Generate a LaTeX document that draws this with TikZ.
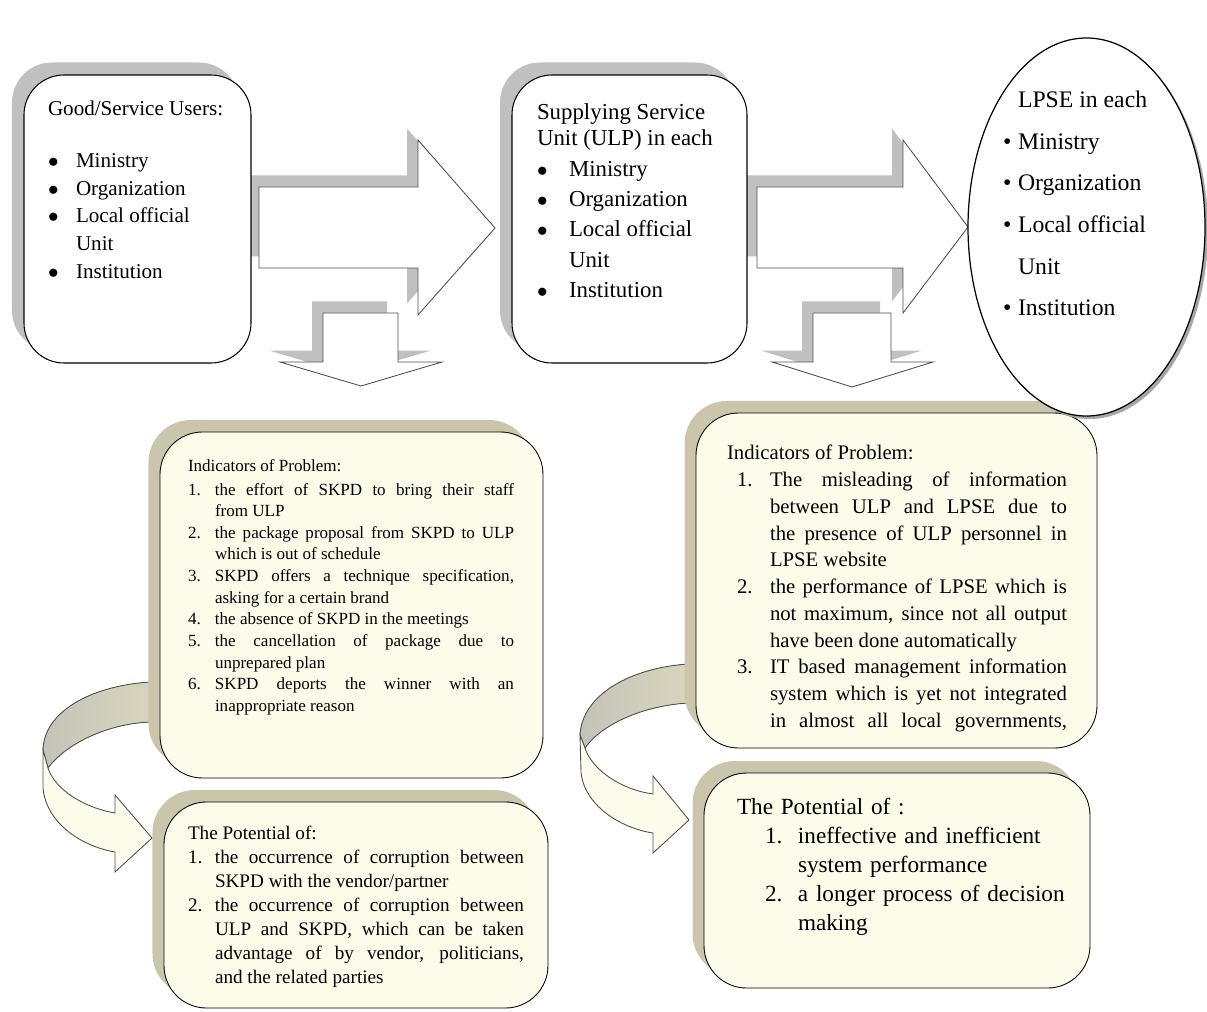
\documentclass[tikz,border=0pt]{standalone}
\usepackage{fontspec}
\setmainfont{Liberation Serif}
\usetikzlibrary{shapes.geometric,shadows}

\definecolor{shadowgray}{RGB}{192,192,192}
\definecolor{olivegray}{RGB}{201,198,172}
\definecolor{cream}{RGB}{253,252,234}
\definecolor{bandback}{RGB}{216,213,190}
\definecolor{bandleft}{RGB}{196,195,184}
\definecolor{arrowline}{RGB}{80,80,80}

\tikzset{
	topbox/.style={draw, fill=white, rounded corners=8mm, line width=0.6pt,
		drop shadow={shadow xshift=-2.4mm, shadow yshift=2.5mm, fill=shadowgray, opacity=1}},
	lowbox/.style={draw, fill=cream, rounded corners=8.5mm, line width=0.5pt,
		drop shadow={shadow xshift=-2.3mm, shadow yshift=2.4mm, fill=olivegray, opacity=1}},
	blockarrow/.style={draw=arrowline, fill=white, line width=0.5pt,
		drop shadow={shadow xshift=-2.2mm, shadow yshift=2.3mm, fill=shadowgray, opacity=1}},
	bandrear/.style={draw=arrowline, left color=bandleft, right color=bandback, line width=0.5pt},
	bandfront/.style={draw=arrowline, fill=cream, line width=0.5pt},
	boxtext/.style={anchor=north west, inner sep=0pt, outer sep=0pt},
}

\newcommand{\bul}[1]{\makebox[#1][l]{$\bullet$}}
\newcommand{\dotitem}[1]{\makebox[#1][l]{\textbullet}}
\newcommand{\numpar}[3]{\par\hangindent=#1\hangafter=1\noindent\makebox[#1][l]{#2}#3}

\begin{document}
\begin{tikzpicture}[x=0.2mm, y=-0.2mm]
	\useasboundingbox (0,0) rectangle (1207,1012);

	\filldraw[blockarrow] (259,187) -- (418,187) -- (418,140) -- (495,228) -- (418,315) -- (418,268) -- (259,268) -- cycle;
	\filldraw[blockarrow] (757,187) -- (903,187) -- (903,140) -- (968,227) -- (903,313) -- (903,268) -- (757,268) -- cycle;
	\filldraw[blockarrow] (323,313) -- (398,313) -- (398,362) -- (442,362) -- (361,386) -- (280,362) -- (323,362) -- cycle;
	\filldraw[blockarrow] (813,313) -- (891,313) -- (891,362) -- (933,362) -- (852,387) -- (772,362) -- (813,362) -- cycle;

	\filldraw[bandrear] (150,682) .. controls (90,686) and (44,712) .. (43,750) -- (48,768) .. controls (65,745) and (105,724) .. (150,722) -- cycle;
	\filldraw[bandfront] (43,750) -- (43,788) .. controls (46,822) and (80,846) .. (115,852) -- (115,872) -- (152,838) -- (115,795) -- (115,813) .. controls (85,808) and (55,790) .. (48,768) -- cycle;
	\filldraw[bandrear] (688,664) .. controls (630,668) and (582,695) .. (580,735) -- (585,748) .. controls (600,726) and (640,706) .. (688,703) -- cycle;
	\filldraw[bandfront] (580,735) -- (581,772) .. controls (584,805) and (620,828) .. (653,833) -- (653,853) -- (689,820) -- (653,776) -- (653,794) .. controls (622,790) and (592,770) .. (585,748) -- cycle;

	\node[topbox, minimum width=45.4mm, minimum height=57.6mm] (users) at (137.5,219) {};
	\node[topbox, minimum width=47mm, minimum height=57.6mm] (ulp) at (629.5,219) {};
	\node[lowbox, minimum width=76.6mm, minimum height=69.2mm] (indleft) at (351.5,605) {};
	\node[lowbox, minimum width=76.8mm, minimum height=41.2mm] (potleft) at (356,905) {};
	\node[lowbox, minimum width=80.2mm, minimum height=67mm] (indright) at (896.5,580.5) {};
	\node[lowbox, minimum width=77.2mm, minimum height=43mm] (potright) at (897,880.5) {};
	\node[ellipse, draw, fill=white, line width=0.7pt, minimum width=47.4mm, minimum height=75.6mm,
		drop shadow={shadow xshift=0.6mm, shadow yshift=-0.6mm, fill=gray!70, opacity=1}] (lpse) at (1086.5,227) {};

	\node[boxtext, align=left, font=\fontsize{12}{15.8}\selectfont] (userstext) at (48,101)
		{Good/Service Users:\\[4.8mm] \bul{5.6mm}Ministry\\ \bul{5.6mm}Organization\\ \bul{5.6mm}Local official\\ \hspace*{5.6mm}Unit\\ \bul{5.6mm}Institution};
	\node[boxtext, align=left, font=\fontsize{13}{17.2}\selectfont] (ulptext) at (537,104)
		{Supplying Service\\[-2.6pt] Unit (ULP) in each\\[0.4pt] \bul{6.4mm}Ministry\\ \bul{6.4mm}Organization\\ \bul{6.4mm}Local official\\ \hspace*{6.4mm}Unit\\ \bul{6.4mm}Institution};
	\node[boxtext, align=left, font=\fontsize{13.5}{23.7}\selectfont] (lpsetext) at (1003,91)
		{\hspace*{3mm}LPSE in each\\ \dotitem{3mm}Ministry\\ \dotitem{3mm}Organization\\ \dotitem{3mm}Local official\\ \hspace*{3mm}Unit\\ \dotitem{3mm}Institution};

	\node[boxtext, text width=65.2mm, align=justify, font=\fontsize{9.7}{12.3}\selectfont] (indlefttext) at (188,459) {%
		\noindent Indicators of Problem:\par\vspace{0.5mm}
		\numpar{5.4mm}{1.}{the effort of SKPD to bring their staff\linebreak from ULP}
		\numpar{5.4mm}{2.}{the package proposal from SKPD to ULP\linebreak which is out of schedule}
		\numpar{5.4mm}{3.}{SKPD offers a technique specification,\linebreak asking for a certain brand}
		\numpar{5.4mm}{4.}{the absence of SKPD in the meetings}
		\numpar{5.4mm}{5.}{the cancellation of package due to\linebreak unprepared plan}
		\numpar{5.4mm}{6.}{SKPD deports the winner with an\linebreak inappropriate reason}\par};
	\node[boxtext, text width=67.2mm, align=justify, font=\fontsize{10.9}{13.7}\selectfont] (potlefttext) at (188,826) {%
		\noindent The Potential of:
		\numpar{5.4mm}{1.}{the occurrence of corruption between\linebreak SKPD with the vendor/partner}
		\numpar{5.4mm}{2.}{the occurrence of corruption between\linebreak ULP and SKPD, which can be taken\linebreak advantage of by vendor, politicians,\linebreak and the related parties}\par};
	\node[boxtext, text width=68mm, align=justify, font=\fontsize{11.8}{15.25}\selectfont] (indrighttext) at (727,445) {%
		\noindent Indicators of Problem:\par\leftskip=2mm
		\numpar{6.6mm}{1.}{The misleading of information\linebreak between ULP and LPSE due to\linebreak the presence of ULP personnel in\linebreak LPSE website}
		\numpar{6.6mm}{2.}{the performance of LPSE which is\linebreak not maximum, since not all output\linebreak have been done automatically}
		\numpar{6.6mm}{3.}{IT based management information\linebreak system which is yet not integrated\linebreak in almost all local governments,}\parfillskip=0pt\par};
	\node[boxtext, text width=66mm, align=left, font=\fontsize{13.2}{16.5}\selectfont] (potrighttext) at (737,798) {%
		\noindent The Potential of :\par\leftskip=5.6mm
		\numpar{6.6mm}{1.}{ineffective and inefficient\newline system performance}
		\numpar{6.6mm}{2.}{a longer process of decision\newline making}\par};
\end{tikzpicture}
\end{document}
